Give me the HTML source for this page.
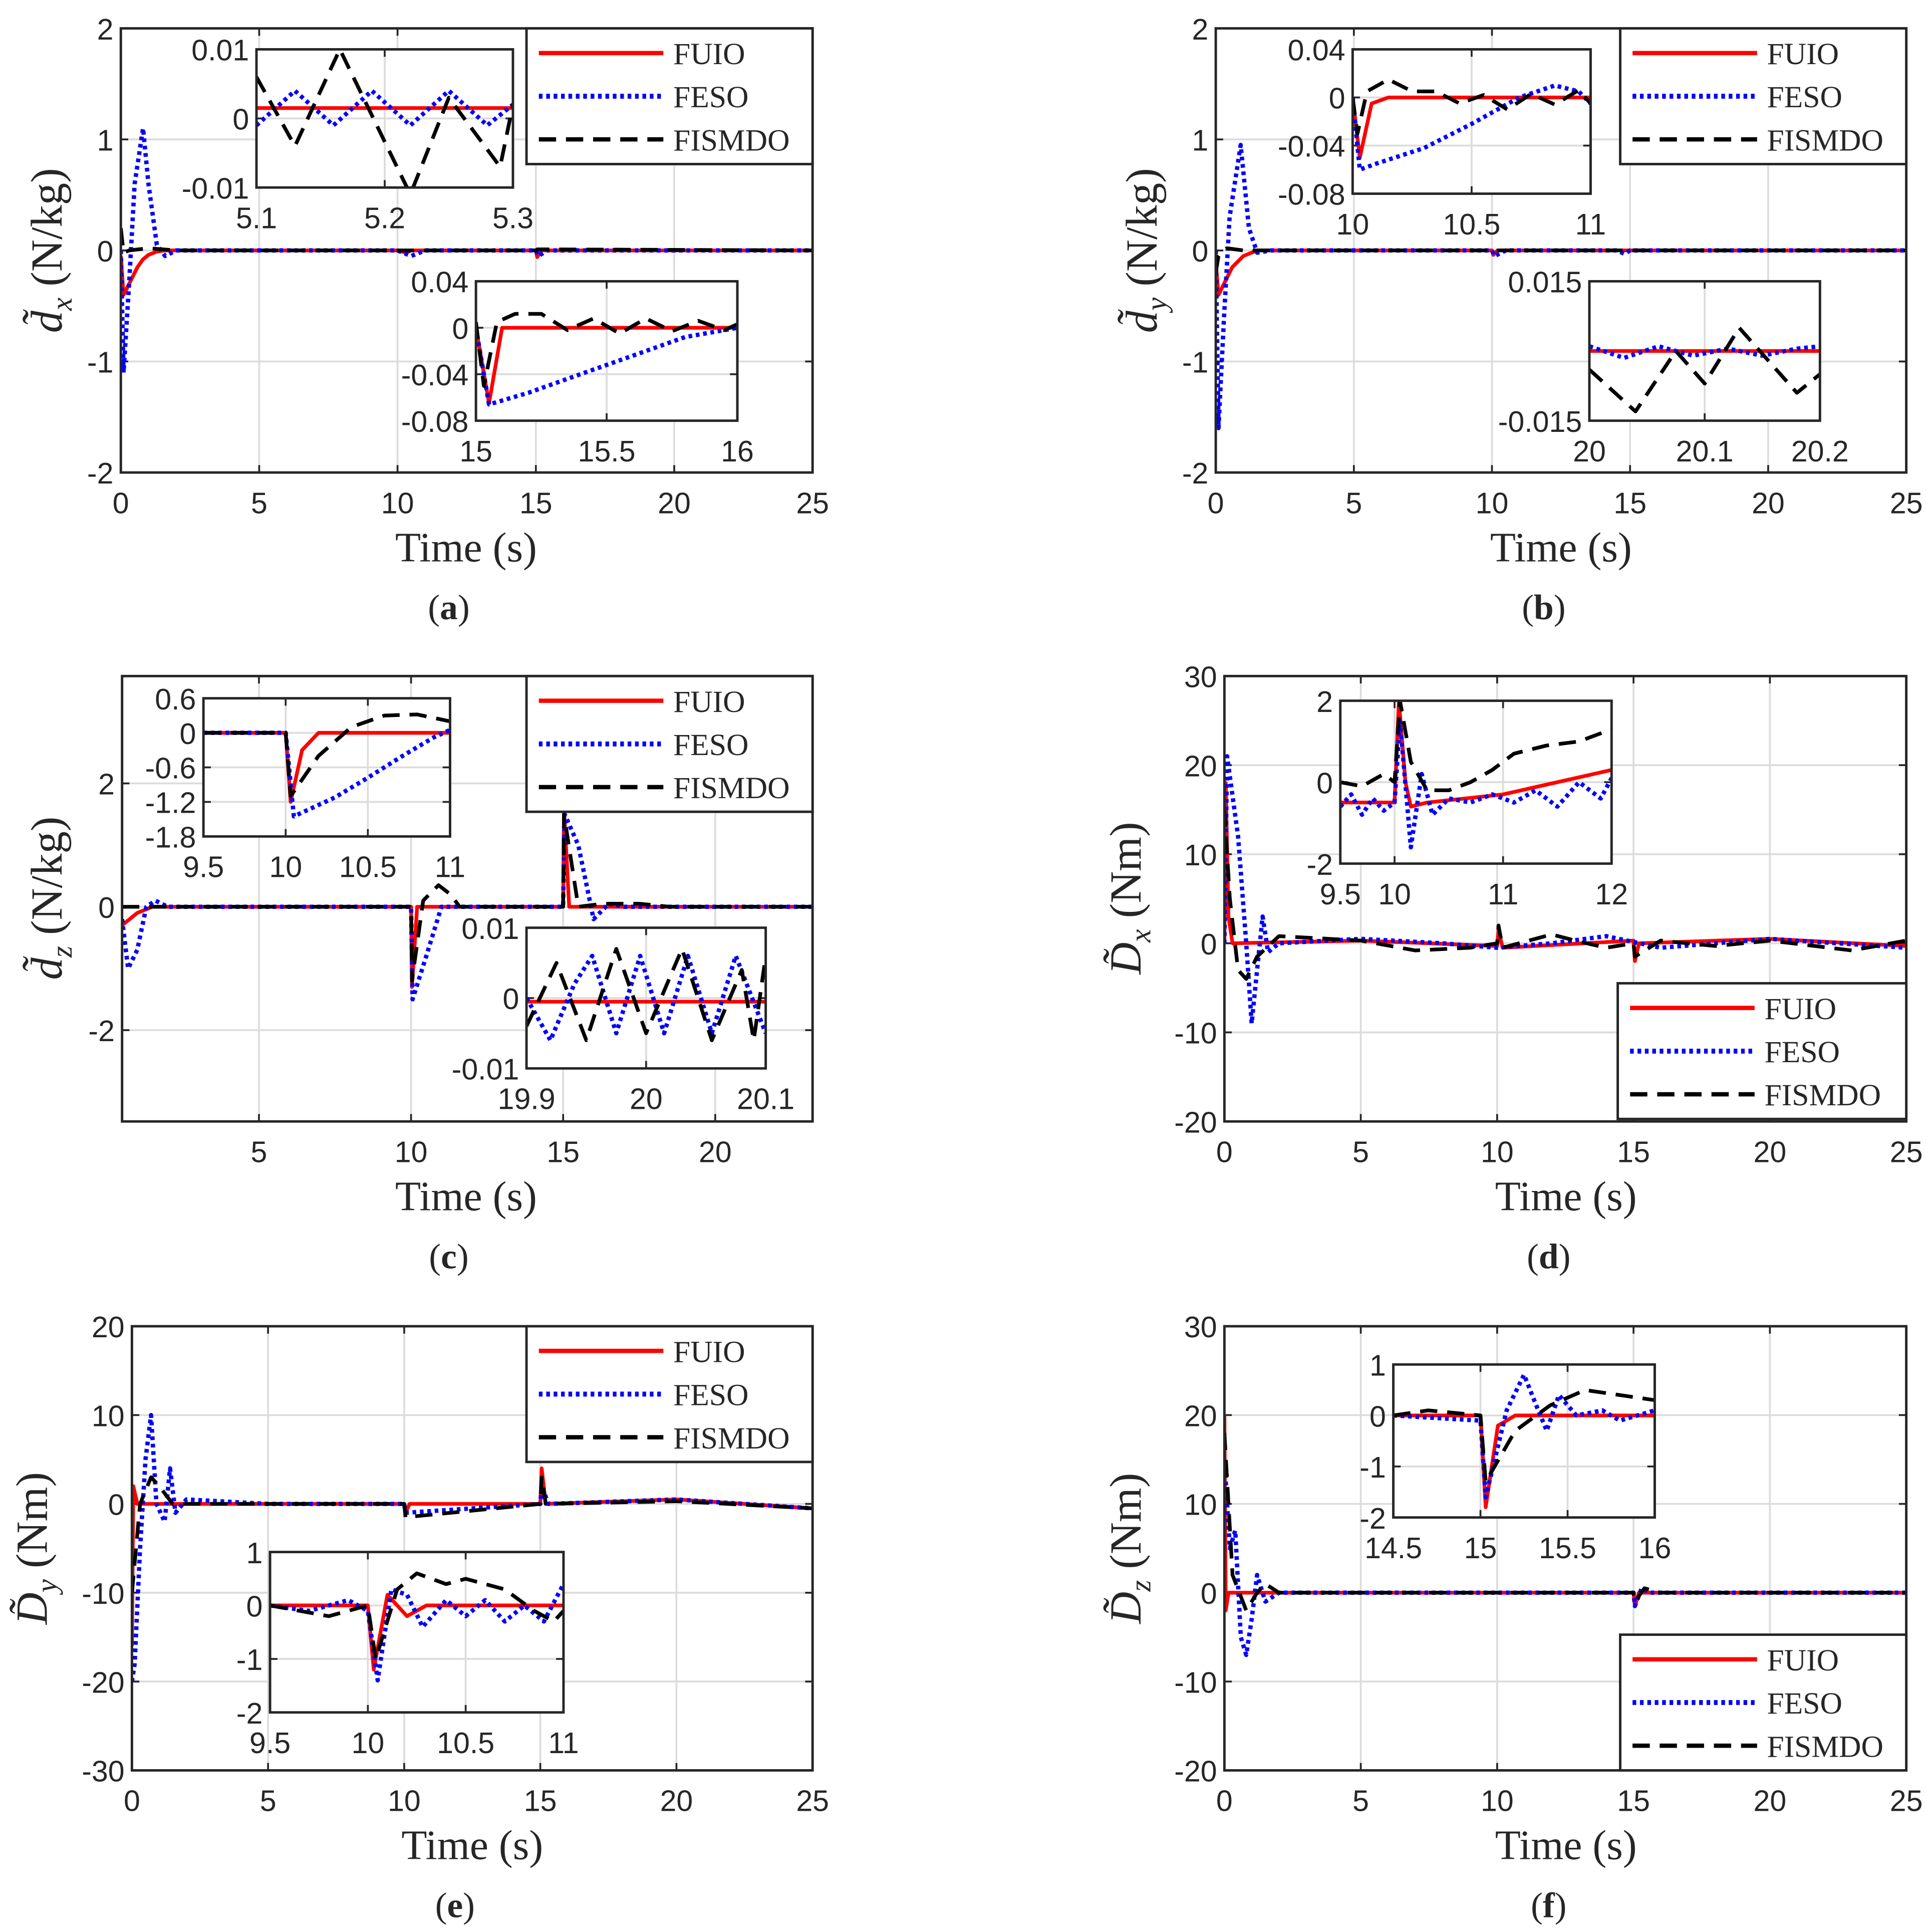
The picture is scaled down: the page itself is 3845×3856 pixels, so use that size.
<!DOCTYPE html>
<html><head><meta charset="utf-8"><style>
html,body{margin:0;padding:0;background:#fff;}
svg{display:block;}
.tk{font-family:"Liberation Sans",Arial,sans-serif;font-size:24px;fill:#262626;}
.sr{font-family:"Liberation Serif","Times New Roman",serif;fill:#262626;}
</style></head><body>
<svg id="fig" width="3845" height="3856" viewBox="0 0 1562 1566" preserveAspectRatio="none" xmlns="http://www.w3.org/2000/svg"></svg>
<script>
// ---------------- DATA ----------------
// panel (a)
const aMainFUIO=[[0,-0.05],[0.1,-0.4],[0.2,-0.35],[0.4,-0.25],[0.6,-0.15],[0.8,-0.08],[1,-0.04],[1.3,-0.01],[1.6,0],[10,0],[10.3,-0.02],[10.5,0],[15,0],[15.05,-0.06],[15.2,0],[25,0]];
const aMainFESO=[[0,0],[0.1,-1.1],[0.3,-0.3],[0.5,0.6],[0.8,1.1],[1.0,0.6],[1.3,0.05],[1.6,-0.05],[2,0],[10,0],[10.5,-0.05],[11,0],[15,0],[15.1,-0.05],[15.4,0],[25,0]];
const aMainFISMDO=[[0,0.2],[0.1,-0.02],[0.3,0],[1,0.02],[2,0],[15,0],[15.05,0.01],[25,0]];
const aIn1FUIO=[[5.1,0.0015],[5.3,0.0015]];
const aIn1FESO=[[5.1,-0.001],[5.13,0.004],[5.16,-0.001],[5.19,0.004],[5.22,-0.001],[5.25,0.004],[5.28,-0.001],[5.3,0.002]];
const aIn1FISMDO=[[5.1,0.006],[5.13,-0.004],[5.165,0.01],[5.22,-0.011],[5.25,0.003],[5.29,-0.007],[5.3,0.002]];
const aIn2FUIO=[[15,0],[15.05,-0.065],[15.1,0],[16,0]];
const aIn2FESO=[[15,0],[15.05,-0.066],[15.2,-0.056],[15.4,-0.04],[15.6,-0.024],[15.8,-0.008],[16,0]];
const aIn2FISMDO=[[15,0.005],[15.03,-0.05],[15.08,0.005],[15.15,0.012],[15.25,0.012],[15.35,-0.002],[15.45,0.008],[15.55,-0.005],[15.65,0.008],[15.75,-0.003],[15.85,0.006],[15.95,-0.002],[16,0.003]];
// panel (b)
const bMainFUIO=[[0,-0.1],[0.1,-0.4],[0.3,-0.3],[0.6,-0.15],[1,-0.05],[1.5,0],[10,0],[10.05,-0.04],[10.2,0],[25,0]];
const bMainFESO=[[0,0],[0.1,-1.6],[0.3,-0.6],[0.5,0.3],[0.9,0.95],[1.2,0.2],[1.5,-0.02],[2,0],[10,0],[10.1,-0.05],[10.5,0],[14.5,0],[14.8,-0.03],[15,0],[25,0]];
const bMainFISMDO=[[0,-0.2],[0.1,-0.05],[0.4,0.02],[1,0],[25,0]];
const bIn1FUIO=[[10,0],[10.03,-0.05],[10.08,-0.005],[10.15,0],[11,0]];
const bIn1FESO=[[10,0],[10.03,-0.06],[10.1,-0.055],[10.3,-0.042],[10.5,-0.022],[10.7,0],[10.85,0.01],[10.95,0.005],[11,-0.005]];
const bIn1FISMDO=[[10,0],[10.02,-0.03],[10.06,0.005],[10.15,0.015],[10.25,0.005],[10.35,0.005],[10.45,-0.005],[10.55,0.002],[10.65,-0.01],[10.75,0.003],[10.85,-0.006],[10.95,0.006],[11,-0.005]];
const bIn2FUIO=[[20,0],[20.2,0]];
const bIn2FESO=[[20,0.001],[20.03,-0.0015],[20.06,0.001],[20.09,-0.001],[20.12,0.0005],[20.15,-0.001],[20.18,0.0005],[20.2,0.001]];
const bIn2FISMDO=[[20,-0.004],[20.04,-0.013],[20.075,0.0],[20.1,-0.007],[20.13,0.005],[20.18,-0.009],[20.2,-0.005]];
// panel (c)
const cMainFUIO=[[0.5,-0.3],[1,-0.1],[1.5,0],[10,0],[10.03,-1.3],[10.2,0],[15,0],[15.03,1.6],[15.2,0],[23.2,0]];
const cMainFESO=[[0.5,-0.2],[0.7,-1.0],[1.0,-0.7],[1.3,0],[1.6,0.1],[2,0],[10,0],[10.05,-1.5],[10.5,-0.8],[11,0],[15,0],[15.05,1.5],[15.5,1.0],[16,-0.2],[16.5,0.05],[17,0],[23.2,0]];
const cMainFISMDO=[[0.5,0],[10,0],[10.03,-1.2],[10.4,0.1],[10.9,0.35],[11.3,0.2],[11.6,0],[15,0],[15.03,1.5],[15.5,0],[16.3,0.05],[17.5,0.05],[18.5,0],[23.2,0]];
const cIn1FUIO=[[9.5,0],[10,0],[10.03,-1.2],[10.1,-0.3],[10.2,0],[11,0]];
const cIn1FESO=[[9.5,0],[10,0],[10.05,-1.45],[10.3,-1.12],[10.5,-0.78],[10.7,-0.42],[10.9,-0.08],[11,0.05]];
const cIn1FISMDO=[[9.5,0],[10,0],[10.03,-1.1],[10.2,-0.4],[10.4,0.1],[10.6,0.3],[10.8,0.32],[11,0.2]];
const cIn2FUIO=[[19.9,-0.0005],[20.1,-0.0005]];
const cIn2FESO=[[19.9,0.0],[19.92,-0.006],[19.94,0.002],[19.955,0.006],[19.975,-0.005],[19.995,0.006],[20.015,-0.005],[20.035,0.006],[20.055,-0.005],[20.075,0.006],[20.1,-0.005]];
const cIn2FISMDO=[[19.9,-0.004],[19.925,0.005],[19.95,-0.006],[19.975,0.007],[20.0,-0.005],[20.03,0.007],[20.055,-0.006],[20.08,0.004],[20.09,-0.006],[20.1,0.006]];
// panel (d)
const dMainFUIO=[[0,0],[0.05,18],[0.15,3],[0.3,0],[5,0.3],[10,-0.3],[10.05,1.5],[10.2,-0.5],[15,0.3],[15.05,-2],[15.2,0],[20,0.5],[25,-0.3]];
const dMainFESO=[[0,0],[0.1,21],[0.5,12],[0.8,0],[1,-9],[1.2,-3],[1.4,3],[1.6,-1],[2,0],[5,0.5],[8,0],[10,-0.5],[12,0],[14,0.8],[16,-0.5],[20,0.5],[25,-0.5]];
const dMainFISMDO=[[0,15],[0.2,5],[0.5,-3],[0.8,-4],[1.2,-1.5],[2,0.8],[5,0.3],[7,-0.8],[9,-0.5],[10,0],[10.05,2],[10.2,-0.5],[12,1],[13,0.2],[14,-0.5],[15,0],[15.05,-1.5],[16,0.3],[18,-0.3],[20,0.3],[23,-0.8],[25,0.3]];
const dIn1FUIO=[[9.5,-0.5],[10,-0.5],[10.04,2],[10.1,0],[10.15,-0.6],[10.3,-0.5],[11,-0.3],[11.5,0],[12,0.3]];
const dIn1FESO=[[9.5,-0.6],[9.6,-0.3],[9.7,-0.8],[9.8,-0.4],[9.9,-0.7],[10,-0.5],[10.05,1.5],[10.15,-1.6],[10.25,0.2],[10.35,-0.8],[10.5,-0.4],[10.7,-0.5],[10.9,-0.3],[11.1,-0.5],[11.3,-0.2],[11.5,-0.6],[11.7,0],[11.9,-0.4],[12,0.1]];
const dIn1FISMDO=[[9.5,0],[9.7,-0.1],[9.9,0.2],[10,0],[10.05,2],[10.15,0.5],[10.3,-0.2],[10.5,-0.2],[10.7,0],[10.9,0.3],[11.1,0.7],[11.4,0.9],[11.7,1],[12,1.3]];
// panel (e)
const eMainFUIO=[[0,-16],[0.05,2],[0.2,0],[10,0],[10.05,-1],[10.2,0],[15,0],[15.05,4],[15.2,0],[20,0.5],[25,-0.5]];
const eMainFESO=[[0,-20],[0.1,-18],[0.3,-5],[0.5,5],[0.7,10],[0.9,0],[1.2,-2],[1.4,4],[1.6,-1],[2,0.5],[5,0],[10,0],[10.05,-1],[15,0],[15.05,2],[15.3,0],[20,0.5],[25,-0.5]];
const eMainFISMDO=[[0,-10],[0.3,0],[0.7,3],[1,2],[1.5,0],[5,0],[10,0],[10.05,-1.5],[15,0],[15.05,3],[15.2,0],[20,0.3],[25,-0.5]];
const eIn1FUIO=[[9.5,0],[10,0],[10.03,-1.2],[10.1,0.2],[10.2,-0.2],[10.3,0],[11,0]];
const eIn1FESO=[[9.5,0],[9.7,-0.1],[9.9,0.1],[10,-0.1],[10.05,-1.4],[10.12,0.3],[10.2,0.2],[10.28,-0.4],[10.4,0.1],[10.5,-0.2],[10.6,0.1],[10.7,-0.3],[10.8,0],[10.9,-0.3],[11,0.4]];
const eIn1FISMDO=[[9.5,0],[9.8,-0.2],[10,0],[10.04,-1],[10.15,0.3],[10.25,0.6],[10.4,0.4],[10.5,0.5],[10.7,0.3],[10.85,-0.1],[10.95,-0.3],[11,-0.1]];
// panel (f)
const fMainFUIO=[[0,20],[0.05,-2],[0.15,0],[15,0],[15.05,-1.5],[15.2,0],[25,0]];
const fMainFESO=[[0,15],[0.2,5],[0.4,7],[0.6,-5],[0.8,-7],[1,-3],[1.2,2],[1.5,-1],[2,0],[15,0],[15.05,-1.5],[15.3,0.5],[15.6,0],[25,0]];
const fMainFISMDO=[[0,18],[0.3,2],[0.8,-2],[1.2,0],[1.5,1],[2,0],[15,0],[15.05,-1],[15.4,0.5],[16,0],[25,0]];
const fIn1FUIO=[[14.5,0],[15,0],[15.03,-1.8],[15.1,-0.2],[15.2,0],[16,0]];
const fIn1FESO=[[14.5,0],[15,-0.1],[15.03,-1.6],[15.15,0.1],[15.25,0.8],[15.32,0.2],[15.38,-0.3],[15.45,0.4],[15.55,0],[15.7,0.1],[15.8,-0.1],[16,0.1]];
const fIn1FISMDO=[[14.5,0],[14.7,0.1],[15,0],[15.03,-1.3],[15.2,-0.3],[15.4,0.2],[15.6,0.5],[15.8,0.4],[16,0.3]];
const legendLabels=["FUIO","FESO","FISMDO"];
// ---------------- DRAW ----------------
const NS="http://www.w3.org/2000/svg";
const svg=document.getElementById('fig');
let clipN=0;
function el(tag,attrs,parent){const e=document.createElementNS(NS,tag);for(const k in attrs)e.setAttribute(k,attrs[k]);(parent||svg).appendChild(e);return e;}
const styles=[{stroke:"#ff0000",w:3,dash:null},{stroke:"#0000ff",w:3.5,dash:"3 3"},{stroke:"#000000",w:3,dash:"14 8"}];
function axes(name,box,xl,yl,xt,yt,series,opts){
  opts=opts||{};
  const g=el('g',{});
  
  
  const [x0,y0,x1,y1]=box;
  const sx=v=>x0+(v-xl[0])/(xl[1]-xl[0])*(x1-x0);
  const sy=v=>y1-(v-yl[0])/(yl[1]-yl[0])*(y1-y0);
  el('rect',{x:x0,y:y0,width:x1-x0,height:y1-y0,fill:'#fff'},g);
  const fmt=opts.fmt||(v=>String(v));
  xt.forEach(v=>{const X=sx(v);
    el('line',{x1:X,x2:X,y1:y0,y2:y1,stroke:'#dcdcdc','stroke-width':1.5},g);
    el('line',{x1:X,x2:X,y1:y1,y2:y1-6,stroke:'#262626','stroke-width':1.5},g);
    el('line',{x1:X,x2:X,y1:y0,y2:y0+6,stroke:'#262626','stroke-width':1.5},g);
    const t=el('text',{x:X,y:y1+33,'text-anchor':'middle',class:'tk'},g);t.textContent=fmt(v);
    
    
  });
  yt.forEach(v=>{const Y=sy(v);
    el('line',{x1:x0,x2:x1,y1:Y,y2:Y,stroke:'#dcdcdc','stroke-width':1.5},g);
    el('line',{x1:x0,x2:x0+6,y1:Y,y2:Y,stroke:'#262626','stroke-width':1.5},g);
    el('line',{x1:x1,x2:x1-6,y1:Y,y2:Y,stroke:'#262626','stroke-width':1.5},g);
    const t=el('text',{x:x0-6,y:Y+9,'text-anchor':'end',class:'tk'},g);t.textContent=fmt(v);
    
    
  });
  const cid='c'+(clipN++);
  const cp=el('clipPath',{id:cid},g);el('rect',{x:x0,y:y0,width:x1-x0,height:y1-y0},cp);
  const sg=el('g',{'clip-path':'url(#'+cid+')'},g);
  series.forEach((d,i)=>{const s=styles[i];
    const p=el('polyline',{points:d.map(q=>sx(q[0]).toFixed(1)+','+sy(q[1]).toFixed(1)).join(' '),fill:'none',stroke:s.stroke,'stroke-width':s.w,'stroke-linejoin':'round'},sg);
    if(s.dash)p.setAttribute('stroke-dasharray',s.dash);
    
    
  });
  el('rect',{x:x0,y:y0,width:x1-x0,height:y1-y0,fill:'none',stroke:'#262626','stroke-width':2},g);
  return g;
}
function legend(x0,y0,x1,y1){
  const g=el('g',{});
  
  
  el('rect',{x:x0,y:y0,width:x1-x0,height:y1-y0,fill:'#fff',stroke:'#262626','stroke-width':2},g);
  legendLabels.forEach((lab,i)=>{const Y=y0+20+i*35;const s=styles[i];
    const l=el('line',{x1:x0+10,x2:x0+111,y1:Y,y2:Y,stroke:s.stroke,'stroke-width':s.w+0.5},g);
    if(s.dash)l.setAttribute('stroke-dasharray',s.dash);
    
    
    const t=el('text',{x:x0+119,y:Y+9,class:'sr','font-size':25},g);t.textContent=lab;
    
    
  });
}
function labels(cx,by,yx,ycy,ylabHTML,cap){
  const t=el('text',{x:cx,y:by+72,'text-anchor':'middle',class:'sr','font-size':34});t.textContent='Time (s)';
  
  
  const c=el('text',{x:cx-14,y:by+119,'text-anchor':'middle',class:'sr','font-size':29});
  c.innerHTML='(<tspan font-weight="bold">'+cap+'</tspan>)';
  
  
  const y=el('text',{x:yx,y:ycy,'text-anchor':'middle',class:'sr','font-size':36,transform:'rotate(-90 '+yx+' '+ycy+')'});
  y.innerHTML=ylabHTML;
  
  
}
const T25=[0,5,10,15,20,25];
const dl=(s)=>'<tspan font-style="italic">'+s+'\u0303</tspan>';
// (a)
axes('plot-a',[98,23,659,383],[0,25],[-2,2],T25,[-2,-1,0,1,2],[aMainFUIO,aMainFESO,aMainFISMDO]);
axes('inset-a1',[208,40,416,152],[5.1,5.3],[-0.01,0.01],[5.1,5.2,5.3],[-0.01,0,0.01],[aIn1FUIO,aIn1FESO,aIn1FISMDO]);
axes('inset-a2',[386,228,598,341],[15,16],[-0.08,0.04],[15,15.5,16],[-0.08,-0.04,0,0.04],[aIn2FUIO,aIn2FESO,aIn2FISMDO]);
legend(427,23,659,133);
labels(378,383,50,203,dl('d')+'<tspan font-style="italic" font-size="24" dy="8">x</tspan><tspan dy="-8">  (N/kg)</tspan>','a');
// (b)
axes('plot-b',[986,23,1546,383],[0,25],[-2,2],T25,[-2,-1,0,1,2],[bMainFUIO,bMainFESO,bMainFISMDO]);
axes('inset-b1',[1097,40,1290,157],[10,11],[-0.08,0.04],[10,10.5,11],[-0.08,-0.04,0,0.04],[bIn1FUIO,bIn1FESO,bIn1FISMDO]);
axes('inset-b2',[1289,228,1476,341],[20,20.2],[-0.015,0.015],[20,20.1,20.2],[-0.015,0.015],[bIn2FUIO,bIn2FESO,bIn2FISMDO]);
legend(1314,23,1546,133);
labels(1266,383,938,203,dl('d')+'<tspan font-style="italic" font-size="24" dy="8">y</tspan><tspan dy="-8">  (N/kg)</tspan>','b');
// (c)
axes('plot-c',[99,548,659,909],[0.5,23.2],[-3.48,3.74],[5,10,15,20],[-2,0,2],[cMainFUIO,cMainFESO,cMainFISMDO]);
axes('inset-c1',[165,566,365,678],[9.5,11],[-1.8,0.6],[9.5,10,10.5,11],[-1.8,-1.2,-0.6,0,0.6],[cIn1FUIO,cIn1FESO,cIn1FISMDO]);
axes('inset-c2',[427,752,621,866],[19.9,20.1],[-0.01,0.01],[19.9,20,20.1],[-0.01,0,0.01],[cIn2FUIO,cIn2FESO,cIn2FISMDO]);
legend(427,548,659,658);
labels(378,909,50,728,dl('d')+'<tspan font-style="italic" font-size="24" dy="8">z</tspan><tspan dy="-8">  (N/kg)</tspan>','c');
// (d)
axes('plot-d',[993,548,1546,909],[0,25],[-20,30],T25,[-20,-10,0,10,20,30],[dMainFUIO,dMainFESO,dMainFISMDO]);
axes('inset-d1',[1087,568,1307,700],[9.5,12],[-2,2],[9.5,10,11,12],[-2,0,2],[dIn1FUIO,dIn1FESO,dIn1FISMDO]);
legend(1312,797,1546,907);
labels(1270,909,925,728,dl('D')+'<tspan font-style="italic" font-size="24" dy="8">x</tspan><tspan dy="-8">  (Nm)</tspan>','d');
// (e)
axes('plot-e',[107,1075,659,1435],[0,25],[-30,20],T25,[-30,-20,-10,0,10,20],[eMainFUIO,eMainFESO,eMainFISMDO]);
axes('inset-e1',[219,1258,457,1388],[9.5,11],[-2,1],[9.5,10,10.5,11],[-2,-1,0,1],[eIn1FUIO,eIn1FESO,eIn1FISMDO]);
legend(427,1075,659,1185);
labels(383,1435,38,1255,dl('D')+'<tspan font-style="italic" font-size="24" dy="8">y</tspan><tspan dy="-8">  (Nm)</tspan>','e');
// (f)
axes('plot-f',[993,1075,1546,1435],[0,25],[-20,30],T25,[-20,-10,0,10,20,30],[fMainFUIO,fMainFESO,fMainFISMDO]);
axes('inset-f1',[1130,1106,1342,1230],[14.5,16],[-2,1],[14.5,15,15.5,16],[-2,-1,0,1],[fIn1FUIO,fIn1FESO,fIn1FISMDO]);
legend(1314,1325,1546,1435);
labels(1270,1435,925,1255,dl('D')+'<tspan font-style="italic" font-size="24" dy="8">z</tspan><tspan dy="-8">  (Nm)</tspan>','f');
</script>
</body></html>
